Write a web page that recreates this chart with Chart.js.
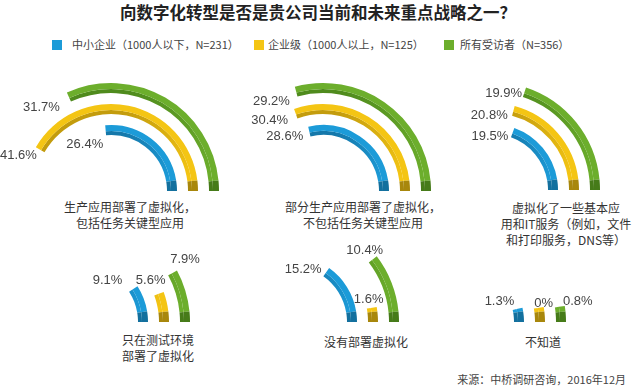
<!DOCTYPE html>
<html>
<head>
<meta charset="utf-8">
<script src="https://cdn.jsdelivr.net/npm/chart.js@4.4.1/dist/chart.umd.min.js"></script>
<style>
  body { margin:0; width:640px; height:392px; position:relative; overflow:hidden; background:#fff;
         font-family:"Noto Sans CJK SC","Noto Sans",sans-serif; color:#333; }
  .title { position:absolute; left:0; width:636px; top:0px; text-align:center; font-size:16.5px; font-weight:bold; color:#222; }
  .legend { position:absolute; top:37px; font-size:11px; line-height:14px; color:#444; white-space:nowrap; }
  .legend i { display:inline-block; width:10px; height:10px; margin-right:8px; vertical-align:-1px; }
  .cat { position:absolute; width:190px; text-align:center; font-size:12px; line-height:16px; color:#333; white-space:pre; }
  .src { position:absolute; right:14px; top:371px; font-size:11px; color:#444; }
  canvas { position:absolute; }
</style>
</head>
<body>
<div class="title">向数字化转型是否是贵公司当前和未来重点战略之一？</div>
<div class="src">来源：中桥调研咨询，2016年12月</div>
<script>
// one small chart per category
var categories = [
  '生产应用部署了虚拟化，\n包括任务关键型应用',
  '部分生产应用部署了虚拟化，\n不包括任务关键型应用',
  '虚拟化了一些基本应\n用和IT服务（例如，文件\n和打印服务，DNS等）',
  '只在测试环境\n部署了虚拟化',
  '没有部署虚拟化',
  '不知道'
];
var seriesNames = ['中小企业（1000人以下，N=231）', '企业级（1000人以上，N=125）', '所有受访者（N=356）'];
var smbValues = [26.4, 28.6, 19.5, 9.1, 15.2, 1.3];
var enterpriseValues = [41.6, 30.4, 20.8, 5.6, 1.6, 0];
var allValues = [31.7, 29.2, 19.9, 7.9, 10.4, 0.8];

// colours: top face, inner side face, end face
var palette = [
  {top:'#1c9bd8', side:'#1578aa', end:'#13709e'},
  {top:'#f4c514', side:'#c39c0d', end:'#a8870c'},
  {top:'#6cae2c', side:'#4f8b1d', end:'#467b19'}
];

// layout of the small charts
var centers = [[111,191],[323,191],[492,190],[82,322],[291,322],[458,322]];
var catPos = [[130,199],[363,199],[566,200],[158,332],[366,334],[543,334]];
var legendPos = [[52,72],[254,268],[444,460]];
// label nudge from the arc end, order: blue, yellow, green
var labelNudge = [
  [[-2,19],[1,8],[-7,15]],
  [[-5,10],[-6,11],[-5,15]],
  [[-6,9],[-7,9],[-4,6]],
  [[-30,-6],[-13,-12],[8,-11]],
  [[-26,1],[-8,-7],[-12,-6]],
  [[-23,-6],[0,-3],[13,-4]]
];
var ringMid = [61, 82, 103];   // blue, yellow, green
var pad = 40, size = 216 + 2 * pad;

//legend
seriesNames.forEach(function(name, i) {
  var d = document.createElement('div');
  d.className = 'legend';
  d.style.left = legendPos[i][0] + 'px';
  d.innerHTML = '<i style="background:' + palette[i].top + '"></i>';
  d.appendChild(document.createTextNode(name));
  d.querySelector('i').style.marginRight = (legendPos[i][1] - legendPos[i][0] - 10) + 'px';
  document.body.appendChild(d);
});

//category captions
categories.forEach(function(txt, i) {
  var d = document.createElement('div');
  d.className = 'cat';
  d.style.left = (catPos[i][0] - 95) + 'px';
  d.style.top = catPos[i][1] + 'px';
  d.textContent = txt;
  document.body.appendChild(d);
});

function sideColor(col) {
  return function(c) {
    if (c.dataIndex === 1) return col.end;
    var area = c.chart.chartArea;
    if (!area) return col.side;
    var g = c.chart.ctx.createConicGradient(0, (area.left + area.right) / 2, (area.top + area.bottom) / 2);
    g.addColorStop(0, col.top);
    g.addColorStop(0.5, col.side);
    g.addColorStop(0.78, col.side);
    g.addColorStop(0.97, col.top);
    g.addColorStop(1, col.top);
    return g;
  };
}

function ring(v, s) {
  var stub = Math.asin(10 / ringMid[s]) * 180 / Math.PI;
  var total = Math.max(v * 3.6, stub + 3);
  var data = [total - stub, stub];
  return [
    {data: data, weight: 6, circumference: total, rotation: 90 - total,
     backgroundColor: [palette[s].top, palette[s].end], borderWidth: 0},
    {data: data, weight: 4, circumference: total, rotation: 90 - total,
     backgroundColor: sideColor(palette[s]), borderWidth: 0}
  ];
}

function spacer() {
  return {data: [1], weight: 11, circumference: 360, rotation: 0, backgroundColor: 'rgba(0,0,0,0)', borderWidth: 0};
}

categories.forEach(function(cat, i) {
  var cv = document.createElement('canvas');
  cv.width = size; cv.height = size;
  cv.style.left = (centers[i][0] - size / 2) + 'px';
  cv.style.top = (centers[i][1] - size / 2) + 'px';
  document.body.appendChild(cv);

  var vals = [smbValues[i], enterpriseValues[i], allValues[i]];
  // outermost dataset first: green, yellow, blue
  var datasets = [].concat(ring(vals[2], 2), [spacer()], ring(vals[1], 1), [spacer()], ring(vals[0], 0));
  var topIndex = [6, 3, 0];

  new Chart(cv, {
    type: 'doughnut',
    data: { labels: ['value', 'end'], datasets: datasets },
    options: {
      responsive: false,
      animation: false,
      cutout: 56,
      layout: { padding: pad },
      plugins: { legend: { display: false }, tooltip: { enabled: false } }
    },
    plugins: [{
      id: 'pctLabels',
      afterDatasetsDraw: function(chart) {
        var ctx = chart.ctx;
        ctx.save();
        ctx.font = '13px "Liberation Sans", Arial, sans-serif';
        ctx.fillStyle = '#444';
        ctx.textBaseline = 'middle';
        ctx.textAlign = i < 3 ? 'right' : 'center';
        for (var s = 0; s < 3; s++) {
          var arc = chart.getDatasetMeta(topIndex[s]).data[0];
          var x = arc.x + arc.outerRadius * Math.cos(arc.startAngle);
          var y = arc.y + arc.outerRadius * Math.sin(arc.startAngle);
          var txt = vals[s] === 0 ? '0%' : vals[s].toFixed(1) + '%';
          ctx.fillText(txt, x + labelNudge[i][s][0], y + labelNudge[i][s][1]);
        }
        ctx.restore();
      }
    }]
  });
});
</script>
</body>
</html>
